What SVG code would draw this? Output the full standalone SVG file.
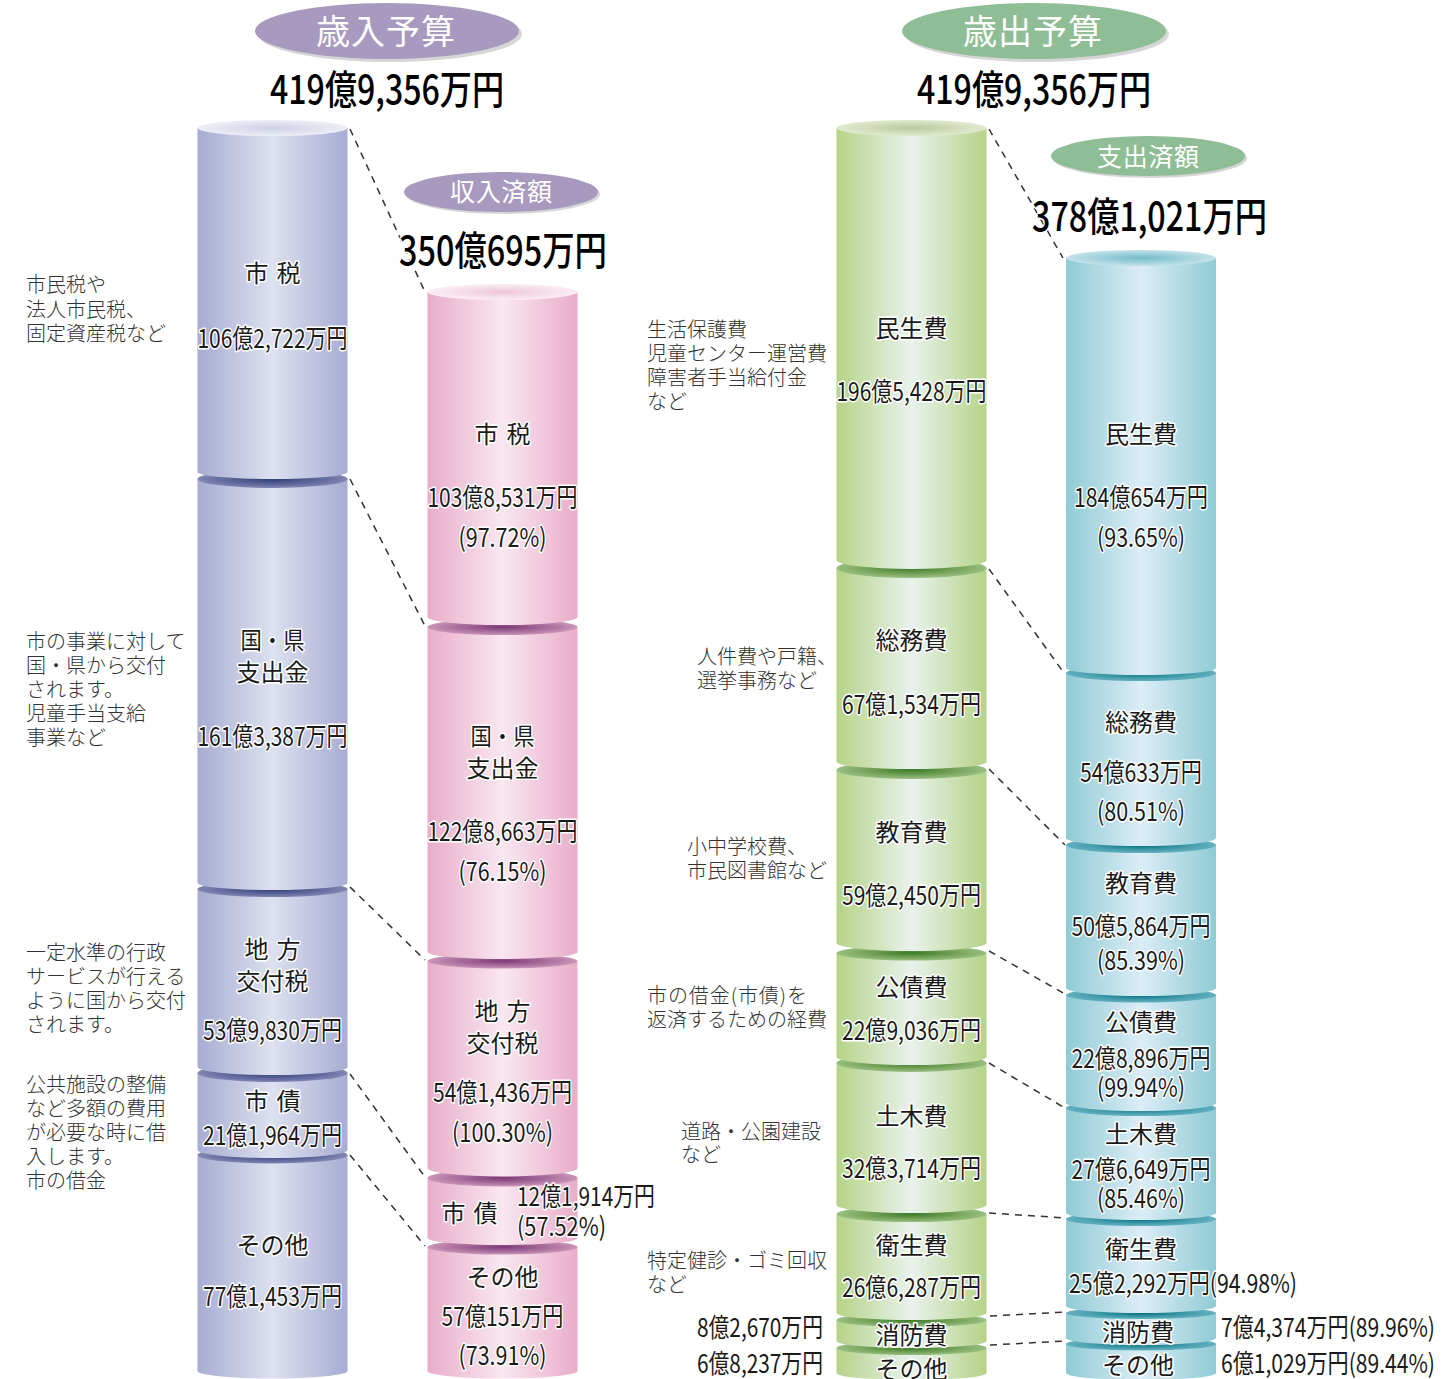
<svg xmlns="http://www.w3.org/2000/svg" width="1452" height="1379" viewBox="0 0 1452 1379">
<style>
text{font-family:"Noto Sans CJK JP","Noto Sans",sans-serif}
.l{font-size:24px;fill:#1a1a1a;text-anchor:middle;stroke:#fff;stroke-width:3px;paint-order:stroke;stroke-linejoin:round}
.v{font-size:26px}
.s{text-anchor:start}
.n{font-size:20px;fill:#333;font-weight:300}
.t{font-size:40px;fill:#000;font-weight:500;stroke:#fff;stroke-width:3px;paint-order:stroke;stroke-linejoin:round}
.p1{font-size:34px;fill:#fff;text-anchor:middle;letter-spacing:1px}
.p2{font-size:25px;fill:#fff;text-anchor:middle}
.sh{fill:#d6d6d6}.pu{fill:#a89abf}.gr{fill:#8fbd95}
.c{fill:none;stroke:#333;stroke-width:1.5;stroke-dasharray:7 6}
.a{fill:url(#ga)}.b{fill:url(#gb)}.cc{fill:url(#gc)}.d{fill:url(#gd)}
.ea{fill:url(#ra)}.eb{fill:url(#rb)}.ec{fill:url(#rc)}.ed{fill:url(#rd)}
</style>
<defs>
<linearGradient id="ga"><stop offset="0" stop-color="#a7acd2"/><stop offset=".5" stop-color="#dde1f0"/><stop offset="1" stop-color="#a7acd2"/></linearGradient>
<linearGradient id="gb"><stop offset="0" stop-color="#e8adc9"/><stop offset=".5" stop-color="#fae7f0"/><stop offset="1" stop-color="#e8adc9"/></linearGradient>
<linearGradient id="gc"><stop offset="0" stop-color="#b5d387"/><stop offset=".5" stop-color="#e9f2ec"/><stop offset="1" stop-color="#b5d387"/></linearGradient>
<linearGradient id="gd"><stop offset="0" stop-color="#8fcbd4"/><stop offset=".5" stop-color="#dcedf7"/><stop offset="1" stop-color="#8fcbd4"/></linearGradient>
<radialGradient id="ra"><stop offset="0" stop-color="#2f3d78"/><stop offset=".75" stop-color="#6a70a2"/><stop offset="1" stop-color="#8288b2"/></radialGradient>
<radialGradient id="rb"><stop offset="0" stop-color="#7d3a78"/><stop offset=".75" stop-color="#b57ba6"/><stop offset="1" stop-color="#cb96b8"/></radialGradient>
<radialGradient id="rc"><stop offset="0" stop-color="#3c7a26"/><stop offset=".75" stop-color="#83ad68"/><stop offset="1" stop-color="#98bf82"/></radialGradient>
<radialGradient id="rd"><stop offset="0" stop-color="#006f7e"/><stop offset=".75" stop-color="#4fa3b2"/><stop offset="1" stop-color="#62b0bf"/></radialGradient>
<radialGradient id="ta"><stop offset="0" stop-color="#cdd1e6"/><stop offset="1" stop-color="#eceef7"/></radialGradient>
<radialGradient id="tb"><stop offset="0" stop-color="#eec6da"/><stop offset="1" stop-color="#fbeef4"/></radialGradient>
<radialGradient id="tc"><stop offset="0" stop-color="#bcc99c"/><stop offset="1" stop-color="#dfead0"/></radialGradient>
<radialGradient id="td"><stop offset="0" stop-color="#72bcc9"/><stop offset="1" stop-color="#c4e2ea"/></radialGradient>
</defs>

<g id="connectors">
<path class="c" d="M350 129L425 292"/>
<path class="c" d="M350 479L425 626"/>
<path class="c" d="M350 887L425 960"/>
<path class="c" d="M350 1074L425 1177"/>
<path class="c" d="M350 1155L425 1246"/>
<path class="c" d="M989 129L1063 258"/>
<path class="c" d="M989 569L1064 673"/>
<path class="c" d="M989 769L1065 845"/>
<path class="c" d="M989 951L1065 994"/>
<path class="c" d="M989 1063L1065 1108"/>
<path class="c" d="M989 1213L1066 1218"/>
<path class="c" d="M990 1316L1066 1312"/>
<path class="c" d="M990 1345L1066 1341"/>
</g>

<g id="header-income"><ellipse class="sh" cx="390" cy="34" rx="132" ry="28"/><ellipse class="pu" cx="387" cy="31" rx="132" ry="28"/><text class="p1" x="386" y="44" textLength="140">歳入予算</text><text class="t" x="270" y="104" textLength="234" lengthAdjust="spacingAndGlyphs">419億9,356万円</text></g>
<g id="header-received"><ellipse class="sh" cx="503" cy="194" rx="97" ry="20"/><ellipse class="pu" cx="501" cy="192" rx="97" ry="20"/><text class="p2" x="501" y="201" textLength="102">収入済額</text><text class="t" x="399" y="265" textLength="208" lengthAdjust="spacingAndGlyphs">350億695万円</text></g>
<g id="header-expense"><ellipse class="sh" cx="1037" cy="34" rx="132" ry="28"/><ellipse class="gr" cx="1034" cy="31" rx="132" ry="28"/><text class="p1" x="1033" y="44" textLength="140">歳出予算</text><text class="t" x="917" y="104" textLength="234" lengthAdjust="spacingAndGlyphs">419億9,356万円</text></g>
<g id="header-paid"><ellipse class="sh" cx="1150" cy="158" rx="97" ry="20"/><ellipse class="gr" cx="1148" cy="156" rx="97" ry="20"/><text class="p2" x="1148" y="166" textLength="102">支出済額</text><text class="t" x="1032" y="231" textLength="235" lengthAdjust="spacingAndGlyphs">378億1,021万円</text></g>

<!-- income budget -->
<g id="a5"><path class="a" d="M197.500 1155V1371A75 7.500 0 0 0 347.500 1371V1155Z"/><ellipse class="ea" cx="272.500" cy="1155" rx="75" ry="8.500"/><text class="l" x="272.500" y="1254">その他</text><text class="l v" x="272.500" y="1306" textLength="139" lengthAdjust="spacingAndGlyphs">77億1,453万円</text></g>
<g id="a4"><path class="a" d="M197.500 1073V1150A75 8 0 0 0 347.500 1150V1073Z"/><ellipse class="ea" cx="272.500" cy="1073" rx="75" ry="9"/><text class="l" x="272.500" y="1110" textLength="56">市 債</text><text class="l v" x="272.500" y="1145" textLength="139" lengthAdjust="spacingAndGlyphs">21億1,964万円</text></g>
<g id="a3"><path class="a" d="M197.500 889V1067A75 8 0 0 0 347.500 1067V889Z"/><ellipse class="ea" cx="272.500" cy="889" rx="75" ry="8"/><text class="l" x="272.500" y="958" textLength="56">地 方</text><text class="l" x="272.500" y="990">交付税</text><text class="l v" x="272.500" y="1040" textLength="139" lengthAdjust="spacingAndGlyphs">53億9,830万円</text></g>
<g id="a2"><path class="a" d="M197.500 479V883A75 7 0 0 0 347.500 883V479Z"/><ellipse class="ea" cx="272.500" cy="479" rx="75" ry="9"/><text class="l" x="272.500" y="649" textLength="64" lengthAdjust="spacingAndGlyphs">国・県</text><text class="l" x="272.500" y="681">支出金</text><text class="l v" x="272.500" y="746" textLength="150" lengthAdjust="spacingAndGlyphs">161億3,387万円</text></g>
<g id="a1"><path class="a" d="M197.500 128V472A75 7 0 0 0 347.500 472V128Z"/><ellipse fill="url(#ta)" cx="272.500" cy="128" rx="75" ry="8"/><text class="l" x="272.500" y="282" textLength="56">市 税</text><text class="l v" x="272.500" y="348" textLength="150" lengthAdjust="spacingAndGlyphs">106億2,722万円</text></g>

<!-- income received -->
<g id="b5"><path class="b" d="M427.500 1247V1371A75 7.500 0 0 0 577.500 1371V1247Z"/><ellipse class="eb" cx="502.500" cy="1247" rx="75" ry="7.500"/><text class="l" x="502.500" y="1286">その他</text><text class="l v" x="502.500" y="1326" textLength="122" lengthAdjust="spacingAndGlyphs">57億151万円</text><text class="l v" x="502.500" y="1365" textLength="88" lengthAdjust="spacingAndGlyphs">(73.91%)</text></g>
<g id="b4"><path class="b" d="M427.500 1178V1238A75 7 0 0 0 577.500 1238V1178Z"/><ellipse class="eb" cx="502.500" cy="1178" rx="75" ry="8.500"/><text class="l" x="469.500" y="1222" textLength="56">市 債</text><text class="l v s" x="517" y="1206" textLength="138" lengthAdjust="spacingAndGlyphs">12億1,914万円</text><text class="l v s" x="517" y="1236" textLength="89" lengthAdjust="spacingAndGlyphs">(57.52%)</text></g>
<g id="b3"><path class="b" d="M427.500 961V1168A75 8.500 0 0 0 577.500 1168V961Z"/><ellipse class="eb" cx="502.500" cy="961" rx="75" ry="7.500"/><text class="l" x="502.500" y="1020" textLength="56">地 方</text><text class="l" x="502.500" y="1052">交付税</text><text class="l v" x="502.500" y="1102" textLength="139" lengthAdjust="spacingAndGlyphs">54億1,436万円</text><text class="l v" x="502.500" y="1142" textLength="101" lengthAdjust="spacingAndGlyphs">(100.30%)</text></g>
<g id="b2"><path class="b" d="M427.500 627V952A75 7 0 0 0 577.500 952V627Z"/><ellipse class="eb" cx="502.500" cy="627" rx="75" ry="8"/><text class="l" x="502.500" y="745" textLength="64" lengthAdjust="spacingAndGlyphs">国・県</text><text class="l" x="502.500" y="777">支出金</text><text class="l v" x="502.500" y="841" textLength="150" lengthAdjust="spacingAndGlyphs">122億8,663万円</text><text class="l v" x="502.500" y="881" textLength="88" lengthAdjust="spacingAndGlyphs">(76.15%)</text></g>
<g id="b1"><path class="b" d="M427.500 292V617A75 8 0 0 0 577.500 617V292Z"/><ellipse fill="url(#tb)" cx="502.500" cy="292" rx="75" ry="8"/><text class="l" x="502.500" y="443" textLength="56">市 税</text><text class="l v" x="502.500" y="507" textLength="150" lengthAdjust="spacingAndGlyphs">103億8,531万円</text><text class="l v" x="502.500" y="547" textLength="88" lengthAdjust="spacingAndGlyphs">(97.72%)</text></g>

<!-- expense budget -->
<g id="c8"><path class="cc" d="M836.500 1348V1373A75 7 0 0 0 986.500 1373V1348Z"/><ellipse class="ec" cx="911.500" cy="1348" rx="75" ry="7"/><text class="l" x="911.500" y="1378">その他</text></g>
<g id="c7"><path class="cc" d="M836.500 1320V1341A75 7 0 0 0 986.500 1341V1320Z"/><ellipse class="ec" cx="911.500" cy="1320" rx="75" ry="7"/><text class="l" x="911.500" y="1344">消防費</text></g>
<g id="c6"><path class="cc" d="M836.500 1214V1313A75 7 0 0 0 986.500 1313V1214Z"/><ellipse class="ec" cx="911.500" cy="1214" rx="75" ry="8"/><text class="l" x="911.500" y="1254">衛生費</text><text class="l v" x="911.500" y="1297" textLength="139" lengthAdjust="spacingAndGlyphs">26億6,287万円</text></g>
<g id="c5"><path class="cc" d="M836.500 1063V1205A75 8 0 0 0 986.500 1205V1063Z"/><ellipse class="ec" cx="911.500" cy="1063" rx="75" ry="9"/><text class="l" x="911.500" y="1125">土木費</text><text class="l v" x="911.500" y="1178" textLength="139" lengthAdjust="spacingAndGlyphs">32億3,714万円</text></g>
<g id="c4"><path class="cc" d="M836.500 953V1057A75 8 0 0 0 986.500 1057V953Z"/><ellipse class="ec" cx="911.500" cy="953" rx="75" ry="7.500"/><text class="l" x="911.500" y="996">公債費</text><text class="l v" x="911.500" y="1040" textLength="139" lengthAdjust="spacingAndGlyphs">22億9,036万円</text></g>
<g id="c3"><path class="cc" d="M836.500 770V943A75 8 0 0 0 986.500 943V770Z"/><ellipse class="ec" cx="911.500" cy="770" rx="75" ry="9"/><text class="l" x="911.500" y="841">教育費</text><text class="l v" x="911.500" y="905" textLength="139" lengthAdjust="spacingAndGlyphs">59億2,450万円</text></g>
<g id="c2"><path class="cc" d="M836.500 568V762A75 7 0 0 0 986.500 762V568Z"/><ellipse class="ec" cx="911.500" cy="568" rx="75" ry="10"/><text class="l" x="911.500" y="649">総務費</text><text class="l v" x="911.500" y="714" textLength="139" lengthAdjust="spacingAndGlyphs">67億1,534万円</text></g>
<g id="c1"><path class="cc" d="M836.500 128V560A75 9 0 0 0 986.500 560V128Z"/><ellipse fill="url(#tc)" cx="911.500" cy="128" rx="75" ry="8"/><text class="l" x="911.500" y="337">民生費</text><text class="l v" x="911.500" y="401" textLength="150" lengthAdjust="spacingAndGlyphs">196億5,428万円</text></g>

<!-- expense paid -->
<g id="d8"><path class="d" d="M1066 1344V1373A75 7 0 0 0 1216 1373V1344Z"/><ellipse class="ed" cx="1141" cy="1344" rx="75" ry="6.500"/><text class="l" x="1138" y="1374">その他</text></g>
<g id="d7"><path class="d" d="M1066 1313V1338A75 7 0 0 0 1216 1338V1313Z"/><ellipse class="ed" cx="1141" cy="1313" rx="75" ry="6"/><text class="l" x="1138" y="1341">消防費</text></g>
<g id="d6"><path class="d" d="M1066 1219V1306A75 7 0 0 0 1216 1306V1219Z"/><ellipse class="ed" cx="1141" cy="1219" rx="75" ry="7"/><text class="l" x="1141" y="1258">衛生費</text><text class="l v s" x="1069" y="1293" textLength="228" lengthAdjust="spacingAndGlyphs">25億2,292万円(94.98%)</text></g>
<g id="d5"><path class="d" d="M1066 1108V1213A75 7 0 0 0 1216 1213V1108Z"/><ellipse class="ed" cx="1141" cy="1108" rx="75" ry="8"/><text class="l" x="1141" y="1143">土木費</text><text class="l v" x="1141" y="1179" textLength="139" lengthAdjust="spacingAndGlyphs">27億6,649万円</text><text class="l v" x="1141" y="1208" textLength="88" lengthAdjust="spacingAndGlyphs">(85.46%)</text></g>
<g id="d4"><path class="d" d="M1066 995V1103A75 8 0 0 0 1216 1103V995Z"/><ellipse class="ed" cx="1141" cy="995" rx="75" ry="7.500"/><text class="l" x="1141" y="1031">公債費</text><text class="l v" x="1141" y="1068" textLength="139" lengthAdjust="spacingAndGlyphs">22億8,896万円</text><text class="l v" x="1141" y="1097" textLength="88" lengthAdjust="spacingAndGlyphs">(99.94%)</text></g>
<g id="d3"><path class="d" d="M1066 845V988A75 8 0 0 0 1216 988V845Z"/><ellipse class="ed" cx="1141" cy="845" rx="75" ry="8"/><text class="l" x="1141" y="892">教育費</text><text class="l v" x="1141" y="936" textLength="139" lengthAdjust="spacingAndGlyphs">50億5,864万円</text><text class="l v" x="1141" y="970" textLength="88" lengthAdjust="spacingAndGlyphs">(85.39%)</text></g>
<g id="d2"><path class="d" d="M1066 673V838A75 8 0 0 0 1216 838V673Z"/><ellipse class="ed" cx="1141" cy="673" rx="75" ry="8"/><text class="l" x="1141" y="731">総務費</text><text class="l v" x="1141" y="782" textLength="122" lengthAdjust="spacingAndGlyphs">54億633万円</text><text class="l v" x="1141" y="821" textLength="88" lengthAdjust="spacingAndGlyphs">(80.51%)</text></g>
<g id="d1"><path class="d" d="M1066 258V668A75 7 0 0 0 1216 668V258Z"/><ellipse fill="url(#td)" cx="1141" cy="258" rx="75" ry="8"/><text class="l" x="1141" y="443">民生費</text><text class="l v" x="1141" y="507" textLength="134" lengthAdjust="spacingAndGlyphs">184億654万円</text><text class="l v" x="1141" y="547" textLength="88" lengthAdjust="spacingAndGlyphs">(93.65%)</text></g>

<g id="outside-values">
<text class="l v s" x="697" y="1337" textLength="126" lengthAdjust="spacingAndGlyphs">8億2,670万円</text>
<text class="l v s" x="697" y="1373" textLength="126" lengthAdjust="spacingAndGlyphs">6億8,237万円</text>
<text class="l v s" x="1221" y="1337" textLength="214" lengthAdjust="spacingAndGlyphs">7億4,374万円(89.96%)</text>
<text class="l v s" x="1221" y="1373" textLength="214" lengthAdjust="spacingAndGlyphs">6億1,029万円(89.44%)</text>
</g>

<g id="notes">
<text class="n" x="26" y="292">市民税や</text><text class="n" x="26" y="317">法人市民税、</text><text class="n" x="26" y="341">固定資産税など</text>
<text class="n" x="26" y="649">市の事業に対して</text><text class="n" x="26" y="673">国・県から交付</text><text class="n" x="26" y="697">されます。</text><text class="n" x="26" y="721">児童手当支給</text><text class="n" x="26" y="745">事業など</text>
<text class="n" x="26" y="960">一定水準の行政</text><text class="n" x="26" y="984">サービスが行える</text><text class="n" x="26" y="1008">ように国から交付</text><text class="n" x="26" y="1032">されます。</text>
<text class="n" x="26" y="1092">公共施設の整備</text><text class="n" x="26" y="1116">など多額の費用</text><text class="n" x="26" y="1140">が必要な時に借</text><text class="n" x="26" y="1164">入します。</text><text class="n" x="26" y="1188">市の借金</text>
<text class="n" x="647" y="337">生活保護費</text><text class="n" x="647" y="361">児童センター運営費</text><text class="n" x="647" y="385">障害者手当給付金</text><text class="n" x="647" y="409">など</text>
<text class="n" x="697" y="664">人件費や戸籍、</text><text class="n" x="697" y="688">選挙事務など</text>
<text class="n" x="687" y="854">小中学校費、</text><text class="n" x="687" y="878">市民図書館など</text>
<text class="n" x="647" y="1003" textLength="160">市の借金(市債)を</text><text class="n" x="647" y="1027">返済するための経費</text>
<text class="n" x="681" y="1139">道路・公園建設</text><text class="n" x="681" y="1162">など</text>
<text class="n" x="647" y="1268">特定健診・ゴミ回収</text><text class="n" x="647" y="1292">など</text>
</g>
</svg>
